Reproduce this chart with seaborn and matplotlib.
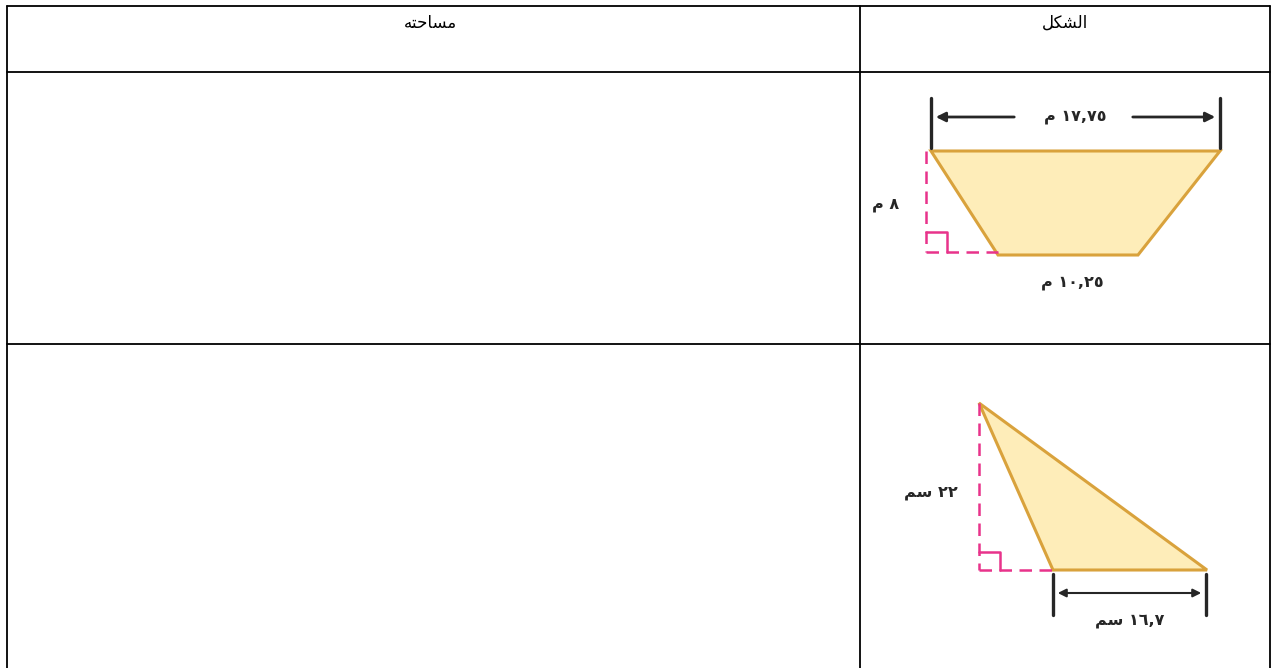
import matplotlib
matplotlib.use("Agg")
import matplotlib.pyplot as plt
import seaborn as sns
from matplotlib.patches import Polygon

# table grid (pixel coordinates of the source image)
col_edges = [7, 860, 1270]
row_edges = [6, 72, 344, 668]
header_labels = ["\uFEEA\uFE98\uFEA3\uFE8E\uFEB4\uFEE3", "\uFEDE\uFEDC\uFEB8\uFEDF\uFE8D"]  # مساحته / الشكل
header_x = [430, 1065]

# trapezoid figure
trap_x = [931, 1220, 1138, 998]
trap_y = [151, 151, 255, 255]
trap_labels = ["\uFEE1 \u0661\u0667,\u0667\u0665", "\uFEE1 \u0668", "\uFEE1 \u0661\u0660,\u0662\u0665"]
trap_label_x = [1075, 886, 1072]
trap_label_y = [117, 204, 283]

# triangle figure
tri_x = [979, 1207, 1053]
tri_y = [403, 570, 570]
tri_labels = ["\uFEE2\uFEB3 \u0662\u0662", "\uFEE2\uFEB3 \u0661\u0666,\u0667"]
tri_label_x = [931, 1130]
tri_label_y = [493, 620]

EDGE = "#D9A23C"
FILL = "#FEEDB9"
PINK = "#E8338B"
DARK = "#262626"

sns.set_style("white")
plt.rcParams['font.family'] = ['DejaVu Sans']

fig = plt.figure(figsize=(12.77, 6.68), dpi=100)
ax = fig.add_axes([0, 0, 1, 1])
ax.set_xlim(0, 1277)
ax.set_ylim(668, 0)
ax.axis("off")

# table lines
for x in col_edges:
    ax.plot([x, x], [row_edges[0], row_edges[-1]], color="black", lw=1.3)
for y in row_edges[:-1]:
    ax.plot([col_edges[0], col_edges[-1]], [y, y], color="black", lw=1.3)

for lab, x in zip(header_labels, header_x):
    ax.text(x, 23, lab, ha="center", va="center", fontsize=12, color="black")

dash = (0, (5, 3))

# ---- trapezoid ----
ax.add_patch(Polygon(list(zip(trap_x, trap_y)), closed=True, facecolor=FILL,
                     edgecolor=EDGE, lw=2.2, joinstyle="miter"))
# height guide
ax.plot([926, 926], [trap_y[0], 252], color=PINK, lw=1.8, ls=dash)
ax.plot([926, trap_x[3]], [252, 252], color=PINK, lw=1.8, ls=dash)
ax.plot([926, 947, 947], [232, 232, 252], color=PINK, lw=1.8)
# top dimension
for x in [trap_x[0], trap_x[1]]:
    ax.plot([x, x], [98, 148], color=DARK, lw=2.4)
ax.annotate("", xy=(trap_x[0] + 2, 117), xytext=(1017, 117),
            arrowprops=dict(arrowstyle="-|>", color=DARK, lw=2, mutation_scale=14))
ax.annotate("", xy=(trap_x[1] - 2, 117), xytext=(1130, 117),
            arrowprops=dict(arrowstyle="-|>", color=DARK, lw=2, mutation_scale=14))
for lab, x, y in zip(trap_labels, trap_label_x, trap_label_y):
    ax.text(x, y, lab, ha="center", va="center", fontsize=11.5, fontweight="bold", color=DARK)

# ---- triangle ----
ax.add_patch(Polygon(list(zip(tri_x, tri_y)), closed=True, facecolor=FILL,
                     edgecolor=EDGE, lw=2.2, joinstyle="miter"))
ax.plot([tri_x[0], tri_x[0]], [tri_y[0], tri_y[1]], color=PINK, lw=1.8, ls=dash)
ax.plot([tri_x[0], tri_x[2]], [tri_y[1], tri_y[1]], color=PINK, lw=1.8, ls=dash)
ax.plot([tri_x[0], 1000, 1000], [552, 552, 570], color=PINK, lw=1.8)
for x in [tri_x[2], tri_x[1] - 1]:
    ax.plot([x, x], [574, 615], color=DARK, lw=2.4)
ax.annotate("", xy=(tri_x[2] + 2, 593), xytext=(tri_x[1] - 3, 593),
            arrowprops=dict(arrowstyle="<|-|>", color=DARK, lw=1.5, mutation_scale=12))
for lab, x, y in zip(tri_labels, tri_label_x, tri_label_y):
    ax.text(x, y, lab, ha="center", va="center", fontsize=11.5, fontweight="bold", color=DARK)

fig.savefig("out.png", dpi=100, facecolor="white")
